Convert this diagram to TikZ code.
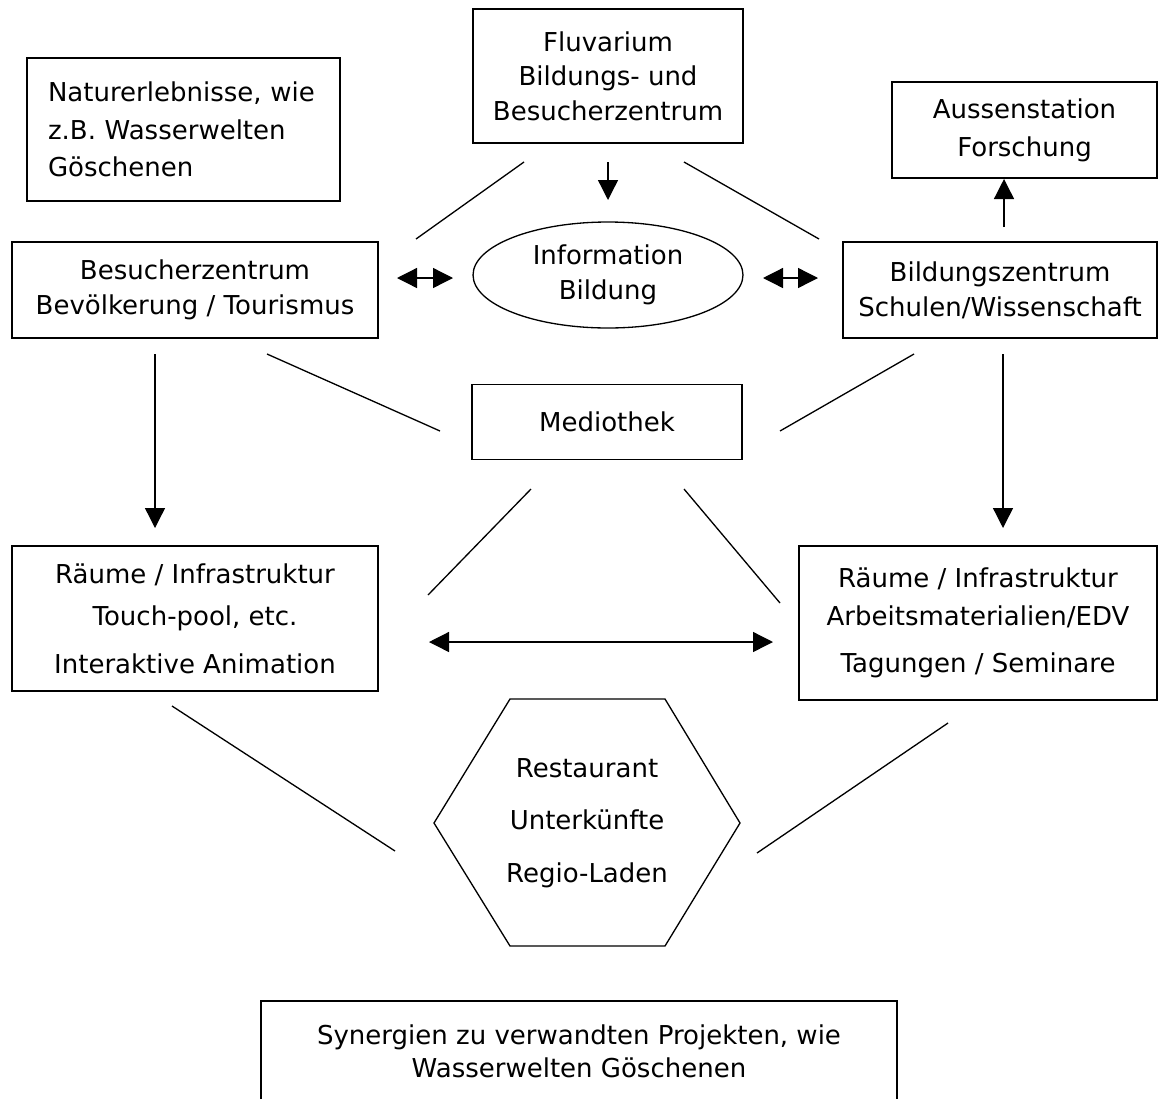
\documentclass[tikz,border=0pt]{standalone}
\usepackage{fontspec}
\setmainfont{DejaVu Sans}
\usetikzlibrary{arrows.meta}
\usetikzlibrary{shapes.geometric}
\tikzset{
  box/.style={draw, line width=0.75pt, align=center, inner sep=0pt},
  ln/.style={line width=0.75pt},
  >={Triangle[length=0.4cm,width=0.4cm]}
}
\begin{document}
\begin{tikzpicture}[x=0.02cm,y=-0.02cm,
  every node/.style={font=\fontsize{14.8}{20}\selectfont}]
\useasboundingbox (0,0) rectangle (1158,1099);
% boxes
\node[box, minimum width=5.4cm, minimum height=2.68cm] (fluv) at (608,76) {Fluvarium\\[-0.4pt]Bildungs- und\\[-0.4pt]Besucherzentrum};
\node[box, text width=5.42cm, inner xsep=0.42cm, minimum height=2.86cm, align=left] (natur) at (183.5,129.5) {Naturerlebnisse, wie\\[1.3pt]z.B. Wasserwelten\\[1.3pt]Göschenen};
\node[box, minimum width=7.32cm, minimum height=1.92cm] (besuch) at (195,290) {Besucherzentrum\\Bevölkerung / Tourismus};
\node[box, ellipse, minimum width=5.4cm, minimum height=2.12cm] (info) at (608,275) {Information\\Bildung};
\node[box, minimum width=6.28cm, minimum height=1.92cm] (bild) at (1000,290) {Bildungszentrum\\Schulen/Wissenschaft};
\node[box, minimum width=5.3cm, minimum height=1.92cm] (aussen) at (1024.5,130) {Aussenstation\\[1.5pt]Forschung};
\node[box, minimum width=5.4cm, minimum height=1.5cm] (medio) at (607,422) {Mediothek};
\node[box, minimum width=7.32cm, minimum height=2.9cm] (raumL) at (195,618.5) {Räume / Infrastruktur\\[3.8pt]Touch-pool, etc.\\[7.2pt]Interaktive Animation};
\node[box, minimum width=7.16cm, minimum height=3.08cm] (raumR) at (978,623) {Räume / Infrastruktur\\[1.5pt]Arbeitsmaterialien/EDV\\[7.2pt]Tagungen / Seminare};
\draw[ln] (510,699) -- (665,699) -- (740,823) -- (665,946) -- (510,946) -- (434,823) -- cycle; % hexagon
\node[align=center] (hex) at (587,823) {Restaurant\\[10pt]Unterkünfte\\[10pt]Regio-Laden};
\draw[ln] (261,1099) -- (261,1001) -- (897,1001) -- (897,1099);
\node[align=center] (syn) at (579,1051) {Synergien zu verwandten Projekten, wie\\[-1.3pt]Wasserwelten Göschenen};
% free line ends
\coordinate (fa) at (524,162); \coordinate (fb) at (416,239);
\coordinate (fc) at (684,162); \coordinate (fd) at (819,239);
\coordinate (ba) at (267,354); \coordinate (bb) at (440,431);
\coordinate (bc) at (914,354); \coordinate (bd) at (780,431);
\coordinate (ma) at (531,489); \coordinate (mb) at (428,595);
\coordinate (mc) at (684,489); \coordinate (md) at (780,603);
\coordinate (ra) at (172,706); \coordinate (rb) at (395,851);
\coordinate (rc) at (948,723); \coordinate (rd) at (757,853);
\draw[ln] (fa) -- (fb);
\draw[ln] (fc) -- (fd);
\draw[ln] (ba) -- (bb);
\draw[ln] (bc) -- (bd);
\draw[ln] (ma) -- (mb);
\draw[ln] (mc) -- (md);
\draw[ln] (ra) -- (rb);
\draw[ln] (rc) -- (rd);
% arrows
\draw[ln,->] (fluv) ++(0,86) -- (608,200);
\draw[ln,<->] (397,278) -- (453,278);
\draw[ln,<->] (763,278) -- (818,278);
\draw[ln,->] (1004,227) -- (1004,179); % to aussen
\draw[ln,->] (155,354) -- (155,528);
\draw[ln,->] (1003,354) -- (1003,528);
\draw[ln,<->] (429,642) -- (773,642);
\end{tikzpicture}
\end{document}
